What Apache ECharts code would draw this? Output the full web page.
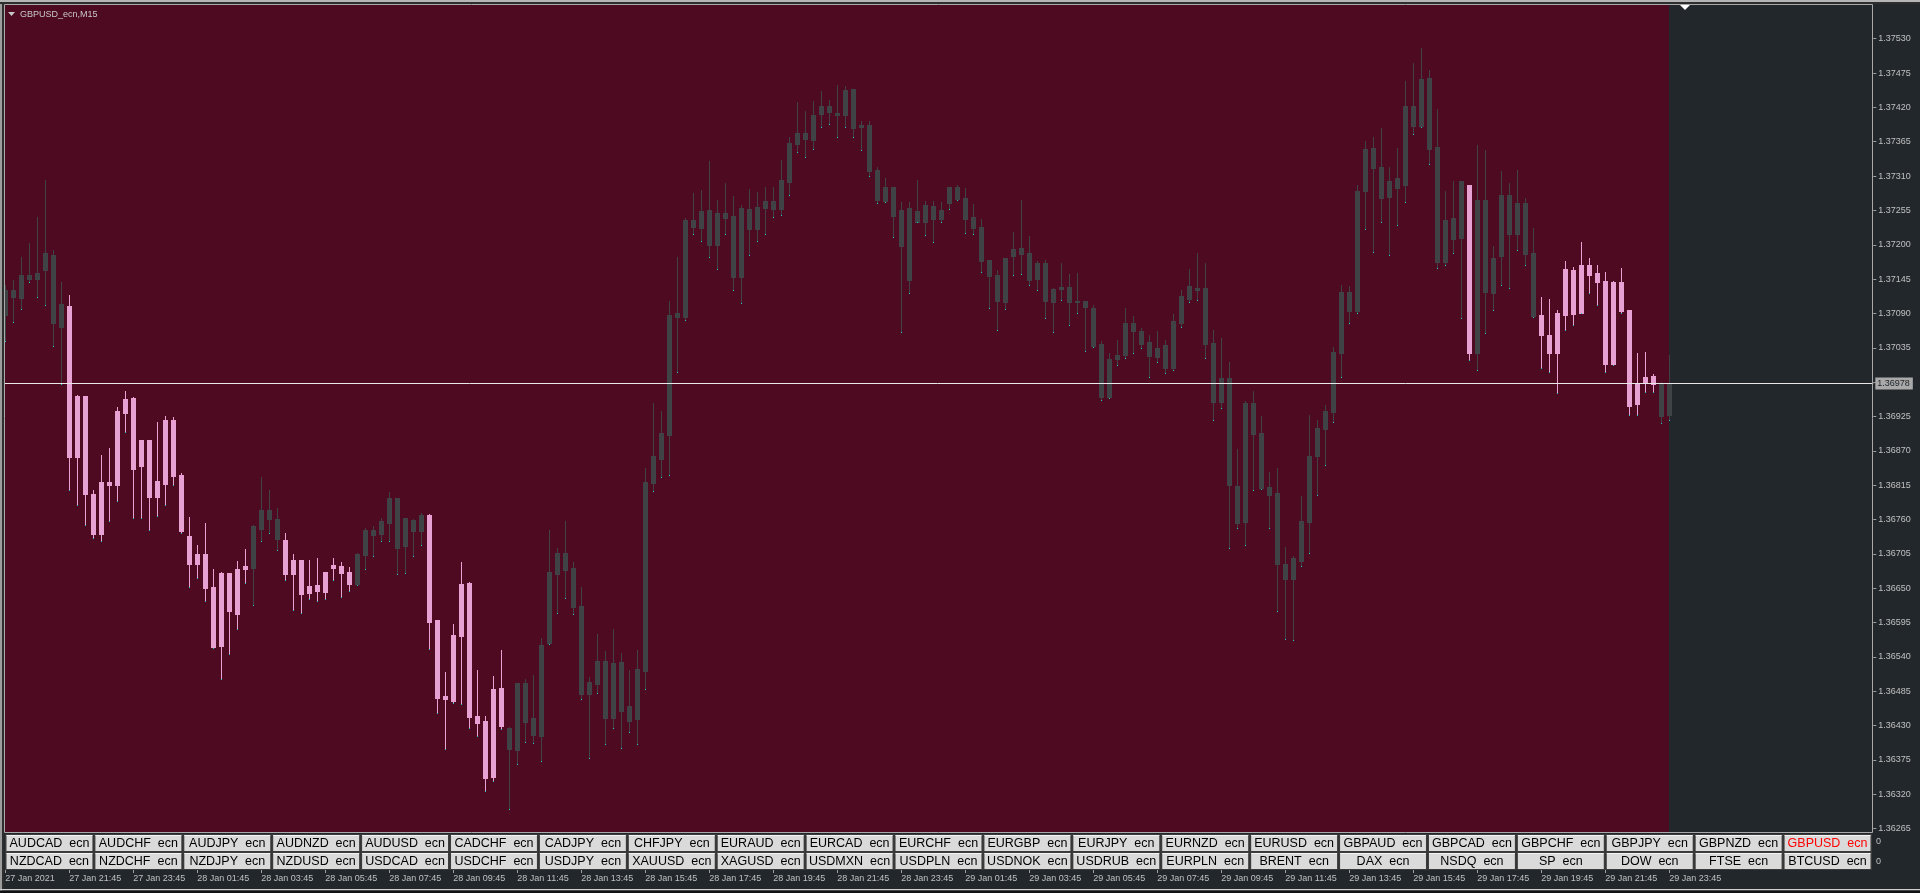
<!DOCTYPE html>
<html>
<head>
<meta charset="utf-8">
<title>GBPUSD_ecn,M15</title>
<script src="https://cdn.jsdelivr.net/npm/echarts@6/dist/echarts.min.js"></script>
<style>
  html, body { margin: 0; padding: 0; background: #22272b; }
  #chart { width: 1920px; height: 893px; }
</style>
</head>
<body>
<div id="chart"></div>
<script>
// M15 bars, 27 Jan 19:45 .. 29 Jan 23:45
const opens = [
  1.37088,1.37128,1.37115,1.37152,1.37145,1.37160,1.37183,1.37068,1.37102,1.36860,
  1.36958,1.36801,1.36737,1.36820,1.36815,1.36931,1.36955,1.36845,1.36888,1.36796,
  1.36817,1.36919,1.36832,1.36734,1.36689,1.36705,1.36652,1.36557,1.36675,1.36609,
  1.36681,1.36683,1.36745,1.36775,1.36761,1.36727,1.36673,1.36696,1.36642,1.36655,
  1.36644,1.36683,1.36686,1.36676,1.36657,1.36704,1.36743,1.36737,1.36755,1.36795,
  1.36718,1.36760,1.36742,1.36767,1.36599,1.36477,1.36469,1.36574,1.36658,1.36445,
  1.36438,1.36347,1.36491,1.36426,1.36391,1.36498,1.36442,1.36414,1.36562,1.36673,
  1.36707,1.36683,1.36621,1.36481,1.36497,1.36534,1.36442,1.36532,1.36462,1.36441,
  1.36518,1.36818,1.36857,1.36895,1.37091,1.37085,1.37240,1.37227,1.37256,1.37199,
  1.37251,1.37246,1.37149,1.37258,1.37225,1.37259,1.37270,1.37258,1.37301,1.37361,
  1.37379,1.37368,1.37410,1.37422,1.37411,1.37408,1.37450,1.37389,1.37392,1.37320,
  1.37270,1.37293,1.37198,1.37259,1.37254,1.37236,1.37262,1.37241,1.37267,1.37293,
  1.37275,1.37244,1.37229,1.37176,1.37152,1.37108,1.37182,1.37195,1.37187,1.37145,
  1.37171,1.37108,1.37129,1.37133,1.37108,1.37110,1.37099,1.37041,1.36956,1.37017,
  1.37023,1.37075,1.37062,1.37044,1.37020,1.37040,1.37002,1.37075,1.37113,1.37131,
  1.37131,1.37043,1.36948,1.36987,1.36814,1.36756,1.36947,1.36899,1.36812,1.36803,
  1.36689,1.36665,1.36694,1.36756,1.36862,1.36905,1.36933,1.37027,1.37125,1.37094,
  1.37286,1.37355,1.37325,1.37276,1.37307,1.37295,1.37422,1.37390,1.37467,1.37357,
  1.37172,1.37243,1.37211,1.37296,1.37027,1.37272,1.37123,1.37182,1.37280,1.37218,
  1.37267,1.37187,1.37087,1.37055,1.37027,1.37087,1.37160,1.37091,1.37168,1.37155,
  1.37142,1.37009,1.37140,1.37096,1.36945,1.36978,1.36990,1.36979,1.36928
];
const closes = [
  1.37128,1.37117,1.37152,1.37145,1.37155,1.37187,1.37074,1.37105,1.36860,1.36958,
  1.36801,1.36737,1.36820,1.36815,1.36934,1.36953,1.36841,1.36888,1.36796,1.36822,
  1.36919,1.36830,1.36742,1.36689,1.36705,1.36650,1.36556,1.36675,1.36614,1.36681,
  1.36686,1.36750,1.36775,1.36761,1.36729,1.36673,1.36696,1.36641,1.36654,1.36646,
  1.36676,1.36688,1.36675,1.36657,1.36705,1.36743,1.36735,1.36758,1.36795,1.36714,
  1.36762,1.36742,1.36767,1.36596,1.36475,1.36472,1.36575,1.36657,1.36444,1.36435,
  1.36346,1.36489,1.36429,1.36392,1.36498,1.36436,1.36415,1.36559,1.36676,1.36707,
  1.36680,1.36620,1.36481,1.36500,1.36534,1.36442,1.36531,1.36454,1.36438,1.36521,
  1.36820,1.36862,1.36899,1.37088,1.37085,1.37240,1.37229,1.37254,1.37199,1.37251,
  1.37243,1.37149,1.37259,1.37225,1.37261,1.37270,1.37258,1.37304,1.37363,1.37379,
  1.37369,1.37408,1.37422,1.37413,1.37408,1.37448,1.37387,1.37392,1.37318,1.37271,
  1.37293,1.37246,1.37256,1.37144,1.37236,1.37264,1.37241,1.37256,1.37293,1.37273,
  1.37241,1.37227,1.37174,1.37150,1.37110,1.37179,1.37193,1.37185,1.37144,1.37171,
  1.37110,1.37129,1.37133,1.37108,1.37110,1.37101,1.37038,1.36956,1.37017,1.37023,
  1.37075,1.37062,1.37041,1.37022,1.37035,1.37002,1.37078,1.37118,1.37134,1.37128,
  1.37041,1.36948,1.36987,1.36816,1.36755,1.36947,1.36897,1.36810,1.36799,1.36689,
  1.36665,1.36699,1.36758,1.36862,1.36906,1.36934,1.37029,1.37125,1.37094,1.37286,
  1.37353,1.37323,1.37275,1.37302,1.37291,1.37422,1.37390,1.37465,1.37353,1.37172,
  1.37240,1.37209,1.37302,1.37027,1.37272,1.37125,1.37179,1.37280,1.37218,1.37267,
  1.37185,1.37086,1.37055,1.37027,1.37091,1.37161,1.37089,1.37168,1.37152,1.37140,
  1.37009,1.37140,1.37094,1.36942,1.36979,1.36988,1.36977,1.36926,1.36978
];
const lows = [
  1.37046,1.37076,1.37097,1.37140,1.37117,1.37103,1.37038,1.36977,1.36807,1.36783,
  1.36751,1.36731,1.36725,1.36758,1.36789,1.36900,1.36763,1.36762,1.36743,1.36766,
  1.36783,1.36816,1.36738,1.36652,1.36667,1.36630,1.36554,1.36505,1.36545,1.36584,
  1.36659,1.36623,1.36725,1.36738,1.36712,1.36663,1.36615,1.36610,1.36633,1.36630,
  1.36633,1.36663,1.36636,1.36646,1.36656,1.36681,1.36702,1.36725,1.36725,1.36673,
  1.36674,1.36702,1.36720,1.36552,1.36451,1.36392,1.36466,1.36464,1.36426,1.36414,
  1.36326,1.36341,1.36424,1.36296,1.36368,1.36404,1.36403,1.36373,1.36561,1.36610,
  1.36635,1.36609,1.36473,1.36379,1.36482,1.36401,1.36426,1.36395,1.36420,1.36400,
  1.36488,1.36806,1.36828,1.36831,1.36997,1.37080,1.37217,1.37206,1.37180,1.37162,
  1.37218,1.37127,1.37107,1.37184,1.37206,1.37217,1.37244,1.37247,1.37280,1.37349,
  1.37340,1.37354,1.37388,1.37393,1.37372,1.37388,1.37373,1.37351,1.37310,1.37267,
  1.37269,1.37213,1.37061,1.37123,1.37236,1.37216,1.37204,1.37236,1.37258,1.37271,
  1.37219,1.37218,1.37157,1.37098,1.37063,1.37097,1.37152,1.37154,1.37136,1.37127,
  1.37082,1.37061,1.37112,1.37072,1.37090,1.37030,1.37037,1.36952,1.36955,1.37008,
  1.37019,1.37026,1.37035,1.36989,1.37013,1.36995,1.36999,1.37069,1.37109,1.37111,
  1.37019,1.36920,1.36939,1.36714,1.36747,1.36720,1.36808,1.36809,1.36746,1.36613,
  1.36569,1.36567,1.36685,1.36707,1.36799,1.36848,1.36917,1.36989,1.37074,1.37090,
  1.37226,1.37188,1.37237,1.37183,1.37232,1.37269,1.37377,1.37389,1.37329,1.37163,
  1.37168,1.37187,1.37082,1.37016,1.36999,1.37058,1.37096,1.37135,1.37131,1.37191,
  1.37167,1.37084,1.37003,1.36997,1.36963,1.37064,1.37072,1.37090,1.37123,1.37104,
  1.36997,1.37008,1.37090,1.36928,1.36928,1.36965,1.36965,1.36914,1.36920
];
const highs = [
  1.37135,1.37144,1.37181,1.37203,1.37245,1.37303,1.37192,1.37140,1.37119,1.36960,
  1.36958,1.36807,1.36863,1.36875,1.36940,1.36966,1.36956,1.36888,1.36888,1.36917,
  1.36926,1.36924,1.36834,1.36764,1.36719,1.36755,1.36681,1.36676,1.36675,1.36694,
  1.36713,1.36752,1.36828,1.36808,1.36779,1.36739,1.36705,1.36696,1.36696,1.36698,
  1.36676,1.36698,1.36692,1.36684,1.36706,1.36747,1.36750,1.36762,1.36804,1.36795,
  1.36762,1.36761,1.36771,1.36769,1.36599,1.36516,1.36593,1.36692,1.36660,1.36519,
  1.36445,1.36510,1.36551,1.36428,1.36498,1.36504,1.36511,1.36570,1.36743,1.36714,
  1.36758,1.36692,1.36652,1.36508,1.36577,1.36550,1.36585,1.36547,1.36519,1.36551,
  1.36843,1.36947,1.36934,1.37110,1.37181,1.37243,1.37283,1.37288,1.37334,1.37272,
  1.37299,1.37278,1.37263,1.37289,1.37284,1.37293,1.37292,1.37335,1.37372,1.37428,
  1.37414,1.37431,1.37447,1.37432,1.37456,1.37454,1.37450,1.37399,1.37399,1.37325,
  1.37307,1.37293,1.37268,1.37268,1.37304,1.37270,1.37270,1.37268,1.37293,1.37295,
  1.37291,1.37265,1.37241,1.37176,1.37160,1.37179,1.37221,1.37271,1.37214,1.37174,
  1.37176,1.37131,1.37171,1.37153,1.37155,1.37110,1.37104,1.37046,1.37027,1.37048,
  1.37099,1.37086,1.37067,1.37055,1.37062,1.37048,1.37089,1.37128,1.37161,1.37187,
  1.37171,1.37064,1.37051,1.37012,1.36873,1.36950,1.36966,1.36926,1.36836,1.36842,
  1.36716,1.36701,1.36798,1.36927,1.36919,1.36944,1.37036,1.37136,1.37134,1.37296,
  1.37366,1.37372,1.37387,1.37325,1.37355,1.37463,1.37491,1.37515,1.37480,1.37417,
  1.37286,1.37302,1.37302,1.37296,1.37360,1.37352,1.37198,1.37318,1.37299,1.37320,
  1.37275,1.37227,1.37116,1.37113,1.37096,1.37174,1.37165,1.37204,1.37179,1.37168,
  1.37157,1.37142,1.37163,1.37096,1.37027,1.37029,1.36993,1.36980,1.37023
];
// 1 = pink bar, 0 = grey bar (indicator colouring)
const pinkBars = [
  0,0,0,0,0,0,0,0,1,1, 1,1,1,1,1,1,1,1,1,1, 1,1,1,1,1,1,1,1,1,1, 1,0,0,0,0,1,1,1,1,1,
  1,1,1,1,0,0,0,0,0,0, 0,0,0,1,1,1,1,1,1,1, 1,1,1,0,0,0,0,0,0,0, 0,0,0,0,0,0,0,0,0,0,
  0,0,0,0,0,0,0,0,0,0, 0,0,0,0,0,0,0,0,0,0, 0,0,0,0,0,0,0,0,0,0, 0,0,0,0,0,0,0,0,0,0,
  0,0,0,0,0,0,0,0,0,0, 0,0,0,0,0,0,0,0,0,0, 0,0,0,0,0,0,0,0,0,0, 0,0,0,0,0,0,0,0,0,0,
  0,0,0,0,0,0,0,0,0,0, 0,0,0,0,0,0,0,0,0,0, 0,0,0,1,0,0,0,0,0,0, 0,0,1,1,1,1,1,1,1,1,
  1,1,1,1,1,1,1,0,0
];
const timeLabels = [
  '27 Jan 2021', '27 Jan 21:45', '27 Jan 23:45', '28 Jan 01:45', '28 Jan 03:45', '28 Jan 05:45',
  '28 Jan 07:45', '28 Jan 09:45', '28 Jan 11:45', '28 Jan 13:45', '28 Jan 15:45', '28 Jan 17:45',
  '28 Jan 19:45', '28 Jan 21:45', '28 Jan 23:45', '29 Jan 01:45', '29 Jan 03:45', '29 Jan 05:45',
  '29 Jan 07:45', '29 Jan 09:45', '29 Jan 11:45', '29 Jan 13:45', '29 Jan 15:45', '29 Jan 17:45',
  '29 Jan 19:45', '29 Jan 21:45', '29 Jan 23:45'
];
const topSymbols = ['AUDCAD','AUDCHF','AUDJPY','AUDNZD','AUDUSD','CADCHF','CADJPY','CHFJPY','EURAUD','EURCAD','EURCHF',
  'EURGBP','EURJPY','EURNZD','EURUSD','GBPAUD','GBPCAD','GBPCHF','GBPJPY','GBPNZD','GBPUSD'];
const bottomSymbols = ['NZDCAD','NZDCHF','NZDJPY','NZDUSD','USDCAD','USDCHF','USDJPY','XAUUSD','XAGUSD','USDMXN','USDPLN',
  'USDNOK','USDRUB','EURPLN','BRENT','DAX','NSDQ','SP','DOW','FTSE','BTCUSD'];
const activeSymbol = 'GBPUSD';
const bid = 1.36978;
const priceMin = 1.36265;
const priceMax = 1.37530;
const priceStep = 0.00055;

const labelStep = 8;
const slotCount = 234; // bars plus the empty chart shift on the right
const categories = Array.from({ length: slotCount }, (_, i) => String(i));
const rows = opens.map((o, i) => [i, o, closes[i], lows[i], highs[i], pinkBars[i]]);

const PINK = '#e7a1d3';
const GREY = '#404346';
const FONT = '"Liberation Sans", Arial, sans-serif';

const tickAt = (i) => i % labelStep === 0 && i < opens.length;

function renderCandle(params, api) {
  const k = api.value(0);
  const o = api.value(1), c = api.value(2), l = api.value(3), h = api.value(4);
  const color = api.value(5) === 1 ? PINK : GREY;
  const pTop = api.coord([k, Math.max(o, c)]);
  const pBot = api.coord([k, Math.min(o, c)]);
  const pHi = api.coord([k, h]);
  const pLo = api.coord([k, l]);
  const cx = Math.floor(pTop[0]);
  const y0 = Math.round(pTop[1]);
  const y1 = Math.round(pBot[1]);
  const yh = Math.round(pHi[1]);
  const yl = Math.round(pLo[1]);
  return {
    type: 'group',
    children: [
      { type: 'rect', shape: { x: cx, y: yh, width: 1, height: Math.max(1, yl - yh) }, style: { fill: color } },
      { type: 'rect', shape: { x: cx - 2, y: y0, width: 5, height: Math.max(1, y1 - y0 + 1) }, style: { fill: color } },
      { type: 'rect', shape: { x: cx, y: yl, width: 1, height: 1 }, style: { fill: '#1cc6d0' } }
    ]
  };
}

function buttons(names, top) {
  const left = 5, w = 1867 / 21, h = 18;
  const out = [];
  names.forEach((n, i) => {
    const x = left + i * w;
    out.push({ type: 'rect', z: 30, shape: { x: x, y: top, width: w, height: h }, style: { fill: '#3b3b3b' } });
    out.push({ type: 'rect', z: 31, shape: { x: x + 1.5, y: top + 1, width: w - 3, height: h - 2 }, style: { fill: '#dadada' } });
    out.push({ type: 'rect', z: 31, shape: { x: x + 1.5, y: top + 1, width: w - 3, height: 1 }, style: { fill: '#f4f4f4' } });
    out.push({
      type: 'text', z: 32,
      style: {
        text: n + '  ecn', x: x + w / 2, y: top + h / 2 + 0.5,
        align: 'center', verticalAlign: 'middle',
        font: '12.5px ' + FONT, fill: n === activeSymbol ? '#ff0000' : '#000000'
      }
    });
  });
  return out;
}

const chart = echarts.init(document.getElementById('chart'));

const option = {
  backgroundColor: '#22272b',
  animation: false,
  grid: { left: 1.3, right: 46.7, top: 38.7, bottom: 64.3 },
  xAxis: {
    type: 'category',
    data: categories,
    boundaryGap: true,
    offset: 41.3,
    axisLine: { show: false },
    axisTick: { show: true, alignWithLabel: true, interval: tickAt, length: 3, lineStyle: { color: '#a0a0a0' } },
    axisLabel: {
      interval: tickAt,
      align: 'left',
      margin: 4,
      color: '#c0c0c0',
      fontFamily: FONT,
      fontSize: 9,
      formatter: (v, i) => timeLabels[i / labelStep]
    },
    splitLine: { show: false }
  },
  yAxis: {
    type: 'value',
    position: 'right',
    min: priceMin,
    max: priceMax,
    interval: priceStep,
    axisLine: { show: false },
    axisTick: { show: true, length: 3, lineStyle: { color: '#a0a0a0' } },
    axisLabel: {
      margin: 5,
      color: '#c0c0c0',
      fontFamily: FONT,
      fontSize: 9,
      showMinLabel: true,
      showMaxLabel: true,
      formatter: (v) => v.toFixed(5)
    },
    splitLine: { show: false }
  },
  series: [
    {
      type: 'line',
      data: [],
      z: 2,
      markLine: {
        silent: true,
        animation: false,
        precision: 5,
        symbol: ['none', 'none'],
        lineStyle: { color: '#e8e8e8', width: 1, type: 'solid' },
        label: {
          show: true,
          position: 'end',
          distance: 2,
          formatter: bid.toFixed(5),
          backgroundColor: '#a9a9a9',
          color: '#1e2226',
          padding: [2, 3, 1, 2],
          fontFamily: FONT,
          fontSize: 9
        },
        data: [{ yAxis: bid }]
      }
    },
    {
      type: 'custom',
      z: 3,
      renderItem: renderCandle,
      encode: { x: 0, y: [1, 2, 3, 4] },
      data: rows
    }
  ],
  graphic: {
    elements: [
      // bar history background, chart shift stays dark
      { type: 'rect', z: 0, silent: true, shape: { x: 5, y: 5, width: 1664, height: 827 }, style: { fill: '#4e0a20' } },
      { type: 'rect', z: 20, silent: true, shape: { x: 4.5, y: 4.5, width: 1868, height: 828 }, style: { fill: 'none', stroke: '#a9a9a9', lineWidth: 1 } },
      { type: 'rect', z: 21, shape: { x: 0, y: 0, width: 2, height: 893 }, style: { fill: '#9c9c9c' } },
      { type: 'rect', z: 21, shape: { x: 2, y: 0, width: 2, height: 893 }, style: { fill: '#2e2e2e' } },
      { type: 'rect', z: 21, shape: { x: 0, y: 0, width: 1920, height: 2 }, style: { fill: '#b6b6b6' } },
      { type: 'rect', z: 21, shape: { x: 0, y: 2, width: 1920, height: 2 }, style: { fill: '#2e2e2e' } },
      { type: 'rect', z: 21, shape: { x: 0, y: 889, width: 1920, height: 1.5 }, style: { fill: '#cfcfcf' } },
      { type: 'rect', z: 21, shape: { x: 0, y: 890.5, width: 1920, height: 3 }, style: { fill: '#111214' } },
      { type: 'polygon', z: 22, shape: { points: [[8, 12], [15, 12], [11.5, 16]] }, style: { fill: '#c8c8c8' } },
      { type: 'text', z: 22, style: { text: 'GBPUSD_ecn,M15', x: 20, y: 14.5, verticalAlign: 'middle', font: '9px ' + FONT, fill: '#c8c8c8' } },
      { type: 'polygon', z: 22, shape: { points: [[1680, 5], [1690, 5], [1685, 10]] }, style: { fill: '#ffffff' } },
      { type: 'text', z: 22, style: { text: '0', x: 1876, y: 842, verticalAlign: 'middle', font: '9px ' + FONT, fill: '#c0c0c0' } },
      { type: 'text', z: 22, style: { text: '0', x: 1876, y: 862, verticalAlign: 'middle', font: '9px ' + FONT, fill: '#c0c0c0' } }
    ].concat(buttons(topSymbols, 834), buttons(bottomSymbols, 852))
  }
};

chart.setOption(option);

window.addEventListener('resize', () => {
  chart.resize();
});
</script>
</body>
</html>
